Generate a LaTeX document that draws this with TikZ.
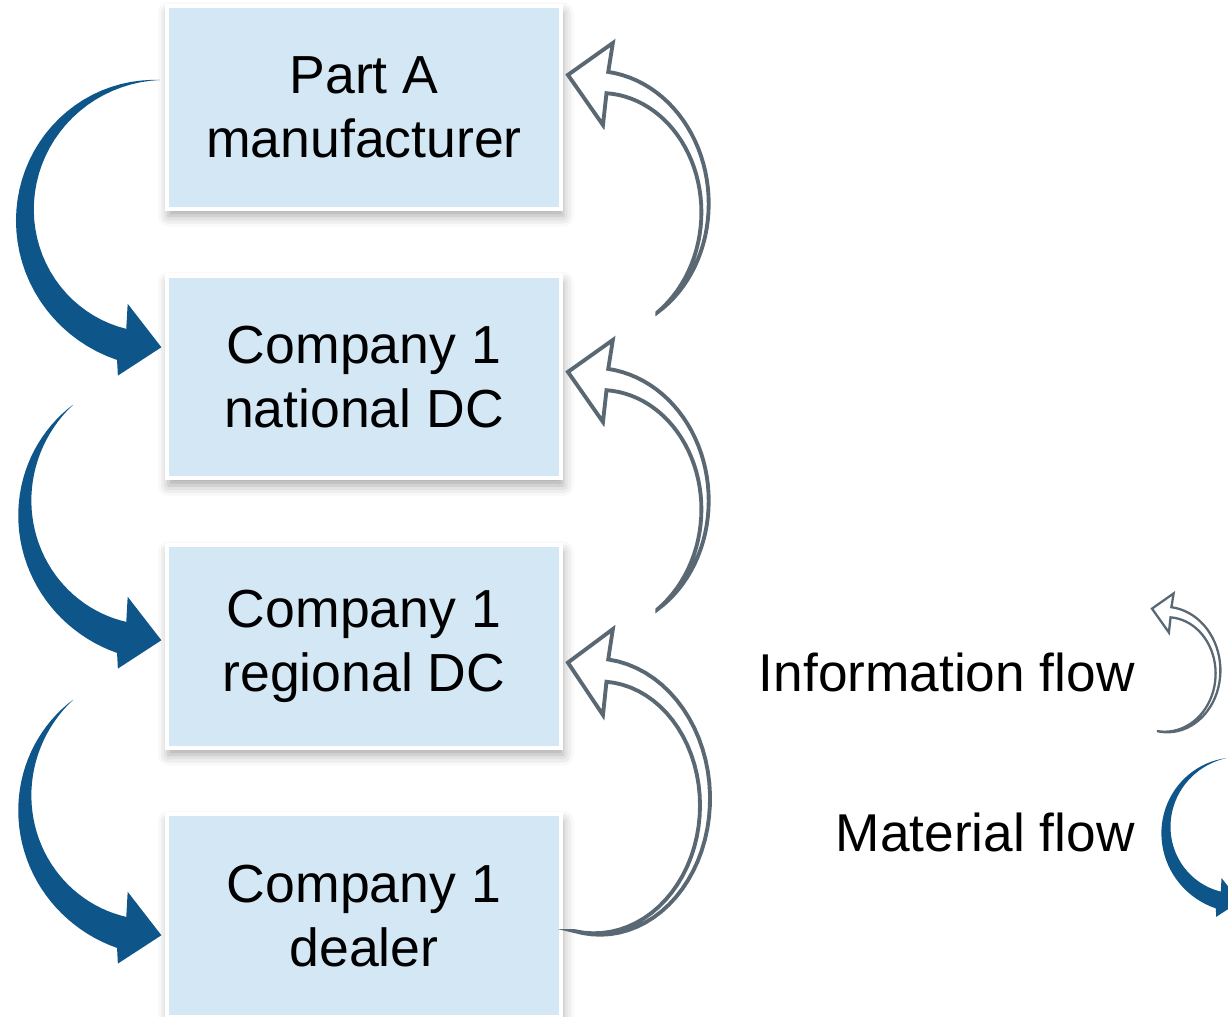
\documentclass[tikz,border=0pt]{standalone}
\usepackage{fontspec}
\setmainfont{Liberation Sans}
\usetikzlibrary{positioning,shadows.blur}

\definecolor{matblue}{HTML}{0E5589}
\definecolor{infogrey}{HTML}{5A6873}
\definecolor{boxblue}{HTML}{D4E7F5}

\tikzset{
  stage/.style={rectangle, fill=boxblue, draw=white, line width=2.3pt,
    minimum width=7.9cm, minimum height=4.06cm, align=center,
    font=\fontsize{30.5}{36.5}\selectfont,
    blur shadow={shadow xshift=1pt, shadow yshift=-4pt, shadow blur radius=6pt, shadow opacity=35}},
  legendtext/.style={font=\fontsize{30.3}{36}\selectfont, inner sep=0pt},
  infoarrow/.style={draw=infogrey, fill=white, line width=2.2pt, line join=miter},
}

% curved block arrow, material flow: centre, tail angle, radius
\newcommand{\matflow}[3]{%
  \fill[matblue, shift={#1}, scale=#3]
    plot[domain=#2:253.5, samples=40, variable=\ang]
      ({(1+0.12*(\ang-(#2))/(253.5-(#2)))*cos(\ang)}, {(1+0.12*(\ang-(#2))/(253.5-(#2)))*sin(\ang)})
    -- (255.3:1.23) -- (270.6:0.98) -- (250:0.70)
    -- plot[domain=253.5:#2, samples=40, variable=\ang]
      ({(1-0.12*(\ang-(#2))/(253.5-(#2)))*cos(\ang)}, {(1-0.12*(\ang-(#2))/(253.5-(#2)))*sin(\ang)})
    -- cycle;
}

% outlined curved arrow, information flow: centre, tail angle, x radius, y radius
\newcommand{\infoflow}[5][]{%
  \filldraw[infoarrow, #1, shift={#2}, xscale=#4, yscale=#5]
    plot[domain=#3:84.5, samples=40, variable=\ang]
      ({(1+0.085*(\ang-(#3))/(84.5-(#3)))*cos(\ang)}, {(1+0.085*(\ang-(#3))/(84.5-(#3)))*sin(\ang)})
    -- (83.6:1.318) -- (104.3:1.09) -- (85.2:0.661)
    -- plot[domain=84.5:#3, samples=40, variable=\ang]
      ({(1-0.085*(\ang-(#3))/(84.5-(#3)))*cos(\ang)}, {(1-0.085*(\ang-(#3))/(84.5-(#3)))*sin(\ang)})
    -- cycle;
}

\begin{document}
\begin{tikzpicture}[x=0.02cm, y=0.02cm]
  \useasboundingbox (0,0) rectangle (1228,1017);
  \clip (0,0) rectangle (1228,1017);

  % supply chain stages
  \node[stage] (maker) at (364,909.5) {Part A\\manufacturer};
  \node[stage, below=1.25cm of maker] (national) {Company 1\\national DC};
  \node[stage, below=1.25cm of national] (regional) {Company 1\\regional DC};
  \node[stage, below=1.25cm of regional] (dealer) {Company 1\\dealer};

  % material flow (down the chain)
  \matflow{(160,802)}{90}{135}
  \matflow{(160,509)}{130}{135}
  \matflow{(160,214)}{130}{135}

  % information flow (up the chain)
  \infoflow{(597,809)}{-56}{108}{126}
  \infoflow{(597,512)}{-56}{108}{126}
  \infoflow{(597,215)}{-102}{108}{132}

  % legend
  \node[legendtext, anchor=base east] (infolabel) at (1135,325) {Information flow};
  \node[legendtext, anchor=base east] (matlabel) at (1135,165) {Material flow};
  \infoflow[line width=1.3pt]{(1166,345)}{-100}{52}{60}
  \matflow{(1239,187)}{100}{73}
\end{tikzpicture}
\end{document}
